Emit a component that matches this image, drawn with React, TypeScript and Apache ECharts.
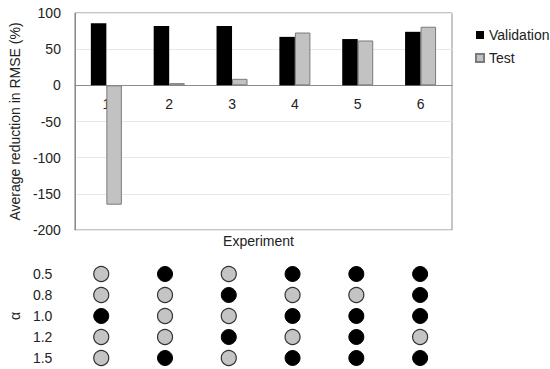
import React, { useEffect, useRef } from "react";
import * as echarts from "echarts";

const experiments = ["1", "2", "3", "4", "5", "6"];
const validation = [86, 82, 82, 67, 64, 74];
const test = [-165, 3, 9, 73, 62, 81];
const yTicks = { min: -200, max: 100, interval: 50 };
const alphas = ["0.5", "0.8", "1.0", "1.2", "1.5"];
// 1 = black (selected), 0 = grey; one row per alpha, one column per experiment
const alphaSel05 = [0, 1, 0, 1, 1, 1];
const alphaSel08 = [0, 0, 1, 0, 0, 1];
const alphaSel10 = [1, 0, 0, 1, 1, 1];
const alphaSel12 = [0, 0, 1, 0, 1, 0];
const alphaSel15 = [0, 1, 0, 1, 1, 1];
const alphaRows = [alphaSel05, alphaSel08, alphaSel10, alphaSel12, alphaSel15];

const FONT = "Liberation Sans, Arial, sans-serif";

export default function App() {
  const ref = useRef<HTMLDivElement>(null);
  useEffect(() => {
    if (!ref.current) return;
    const chart = echarts.init(ref.current, undefined, { renderer: "svg" });
    const dots: any[] = [];
    alphaRows.forEach((row, r) => {
      row.forEach((v, c) => {
        dots.push({
          value: [experiments[c], alphas[r]],
          itemStyle: v
            ? { color: "#000000", borderColor: "#000000", borderWidth: 1, opacity: 1 }
            : { color: "#c4c4c4", borderColor: "#333333", borderWidth: 1.2, opacity: 1 },
        });
      });
    });
    chart.setOption({
      animation: false,
      textStyle: { fontFamily: FONT },
      legend: {
        orient: "vertical",
        left: 470,
        top: 23,
        icon: "rect",
        itemWidth: 8,
        itemHeight: 8,
        itemGap: 9,
        textStyle: { fontSize: 14, color: "#222", fontFamily: FONT },
        data: ["Validation", "Test"],
      },
      grid: [
        {
          left: 65,
          top: 13,
          width: 387,
          height: 217,
          show: true,
          borderColor: "#8c8c8c",
          borderWidth: 1,
          containLabel: false,
        },
        { left: 65, top: 263.5, width: 387, height: 105, containLabel: false },
      ],
      graphic: [
        {
          type: "text",
          x: 258.5,
          y: 241,
          style: {
            text: "Experiment",
            fontSize: 14,
            fontFamily: FONT,
            fill: "#222",
            align: "center",
            verticalAlign: "middle",
          },
        },
      ],
      xAxis: [
        {
          type: "category",
          gridIndex: 0,
          data: experiments,
          axisLine: { onZero: true, lineStyle: { color: "#8c8c8c", width: 1 } },
          axisTick: { show: false },
          axisLabel: { margin: -133, fontSize: 14, color: "#222", fontFamily: FONT },
          splitLine: { show: false },
        },
        {
          type: "category",
          gridIndex: 1,
          data: experiments,
          show: false,
        },
      ],
      yAxis: [
        {
          type: "value",
          gridIndex: 0,
          min: yTicks.min,
          max: yTicks.max,
          interval: yTicks.interval,
          name: "Average reduction in RMSE (%)",
          nameLocation: "middle",
          nameGap: 46,
          nameTextStyle: { fontSize: 14, color: "#222", fontFamily: FONT },
          axisLine: { show: true, lineStyle: { color: "#8c8c8c" } },
          axisTick: { show: false },
          axisLabel: { margin: 14, fontSize: 14, color: "#222", fontFamily: FONT },
          splitLine: { show: true, lineStyle: { color: "#e8e8e8", width: 1 } },
        },
        {
          type: "category",
          gridIndex: 1,
          data: alphas,
          inverse: true,
          name: "α",
          nameLocation: "middle",
          nameGap: 44,
          nameTextStyle: { fontSize: 14, color: "#222", fontFamily: FONT },
          axisLine: { show: false },
          axisTick: { show: false },
          axisLabel: { margin: 17, fontSize: 14, color: "#222", fontFamily: FONT },
          splitLine: { show: false },
        },
      ],
      series: [
        {
          name: "Validation",
          type: "bar",
          xAxisIndex: 0,
          yAxisIndex: 0,
          data: validation,
          barWidth: 15.5,
          barGap: "0%",
          itemStyle: { color: "#000000" },
        },
        {
          name: "Test",
          type: "bar",
          xAxisIndex: 0,
          yAxisIndex: 0,
          data: test,
          barWidth: 15.5,
          barGap: "0%",
          itemStyle: { color: "#c2c2c2", borderColor: "#7a7a7a", borderWidth: 1 },
        },
        {
          name: "alpha",
          type: "scatter",
          xAxisIndex: 1,
          yAxisIndex: 1,
          symbol: "circle",
          symbolSize: 15,
          itemStyle: { opacity: 1 },
          data: dots,
        },
      ],
    });
    return () => chart.dispose();
  }, []);
  return (
    <div
      ref={ref}
      style={{ position: "fixed", left: 0, top: 0, width: 550, height: 369, background: "#fff" }}
    />
  );
}
